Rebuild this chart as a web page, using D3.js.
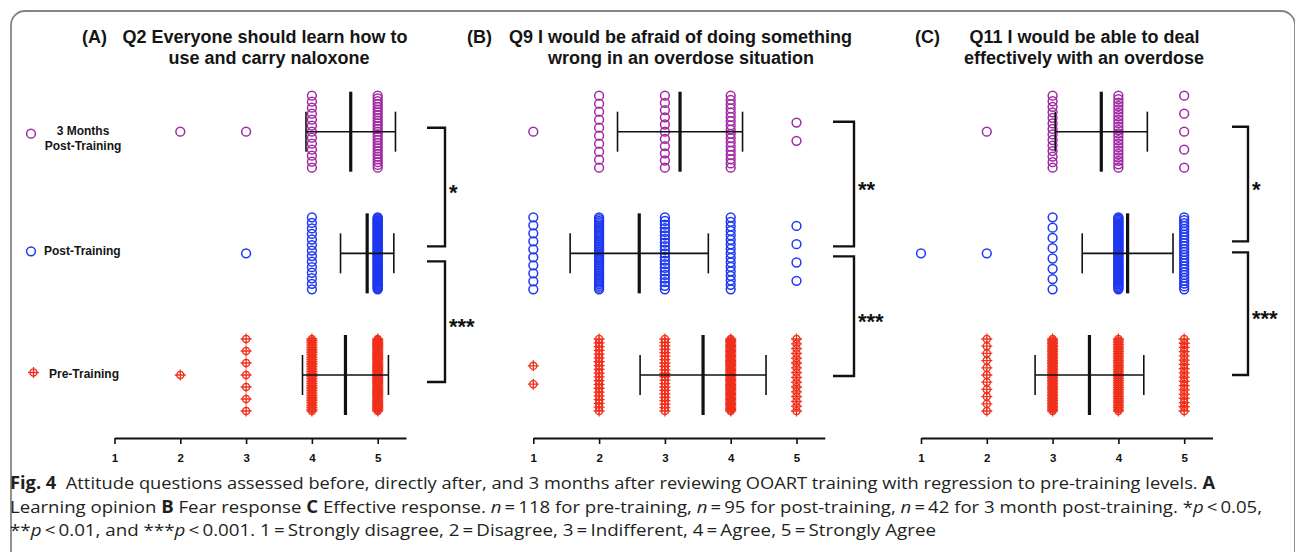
<!DOCTYPE html>
<html>
<head>
<meta charset="utf-8">
<script src="https://cdn.jsdelivr.net/npm/d3@7/dist/d3.min.js"></script>
<style>
  html, body { margin: 0; padding: 0; background: #fff; }
  svg { display: block; }
  .panel-title { font-family: "Liberation Sans", Arial, sans-serif; font-weight: bold; font-size: 18px; fill: #151515; }
  .row-label { font-family: "Liberation Sans", Arial, sans-serif; font-weight: bold; font-size: 12px; fill: #151515; }
  .sig { font-family: "Liberation Sans", Arial, sans-serif; font-weight: bold; font-size: 22px; fill: #111; }
  .axis path, .axis line { stroke: #111; }
  .axis path { stroke-width: 2; }
  .axis line { stroke-width: 1.6; }
  .axis text { font-family: "Liberation Sans", Arial, sans-serif; font-weight: bold; font-size: 11.5px; fill: #111; }
  .caption { font-family: "Open Sans", "Noto Sans", sans-serif; font-size: 17px; fill: #231f20; white-space: pre; }
</style>
</head>
<body>
<div id="chart"></div>
<script>
const groups = ["3 Months Post-Training", "Post-Training", "Pre-Training"];
const scores = [1, 2, 3, 4, 5];
const panelLetters = ["(A)", "(B)", "(C)"];
const titleLines = [
  ["Q2 Everyone should learn how to", "use and carry naloxone"],
  ["Q9 I would be afraid of doing something", "wrong in an overdose situation"],
  ["Q11 I would be able to deal", "effectively with an overdose"]
];

// answers per score 1..5, one row per group (3 months, post, pre)
const countsQ2 = [[0, 1, 1, 13, 27], [0, 0, 1, 14, 80], [0, 1, 7, 43, 67]];
const countsQ9 = [[1, 10, 11, 18, 2], [10, 43, 21, 17, 4], [2, 20, 22, 58, 16]];
const countsQ11 = [[0, 1, 14, 22, 5], [1, 1, 8, 59, 26], [0, 11, 48, 41, 18]];

// mean and SD as drawn
const meansQ2 = [4.59, 4.84, 4.51];
const sdsQ2 = [0.68, 0.405, 0.653];
const meansQ9 = [3.23, 2.61, 3.58];
const sdsQ9 = [0.95, 1.05, 0.957];
const meansQ11 = [3.74, 4.14, 3.56];
const sdsQ11 = [0.70, 0.69, 0.826];

// significance: 3 months vs post, post vs pre
const sigQ2 = ["*", "***"];
const sigQ9 = ["**", "***"];
const sigQ11 = ["*", "***"];

const captionLines = [
  [["Fig. 4", "b"], ["  Attitude questions assessed before, directly after, and 3 months after reviewing OOART training with regression to pre-training levels. ", ""], ["A", "b"]],
  [["Learning opinion ", ""], ["B", "b"], [" Fear response ", ""], ["C", "b"], [" Effective response. ", ""], ["n", "i"], ["\u2009=\u2009118 for pre-training, ", ""], ["n", "i"], ["\u2009=\u200995 for post-training, ", ""], ["n", "i"], ["\u2009=\u200942 for 3 month post-training. *", ""], ["p", "i"], ["\u2009<\u20090.05,", ""]],
  [["**", ""], ["p", "i"], ["\u2009<\u20090.01, and ***", ""], ["p", "i"], ["\u2009<\u20090.001. 1\u2009=\u2009Strongly disagree, 2\u2009=\u2009Disagree, 3\u2009=\u2009Indifferent, 4\u2009=\u2009Agree, 5\u2009=\u2009Strongly Agree", ""]]
];

const panels = [
  { counts: countsQ2, means: meansQ2, sds: sdsQ2, sig: sigQ2 },
  { counts: countsQ9, means: meansQ9, sds: sdsQ9, sig: sigQ9 },
  { counts: countsQ11, means: meansQ11, sds: sdsQ11, sig: sigQ11 }
];

// layout only
const width = 1295;
const height = 552;
const unit = 65.8;
const axisY = 438;
const colors = ["#a12aa3", "#1e38f0", "#f0301c"];
const panelLayout = [
  { left: 114.5, letterX: 82, titleX: [265, 269], bracketX: [427, 445], top: [-4, -7], low: [8, 7] },
  { left: 533.3, letterX: 467, titleX: [680.5, 681], bracketX: [833, 854], top: [-10, -7], low: [3, 1] },
  { left: 921, letterX: 915, titleX: [1084.5, 1084], bracketX: [1232, 1248], top: [-5, -12], low: [-1, 0] }
];
const captionX = 10;
const captionEnds = [1215, 1262, 936];

const svg = d3.select("#chart").append("svg")
  .attr("width", width)
  .attr("height", height);

// figure frame with rounded top corners
svg.append("path")
  .attr("d", "M11,552 V25 A14,14 0 0 1 25,11 H1281 A14,14 0 0 1 1295,25 V552")
  .attr("fill", "none")
  .attr("stroke", "#858585")
  .attr("stroke-width", 1.8);

const y = d3.scalePoint().domain(groups).range([131.7, 375]);

// crosshair marker for pre-training
function crosshair(r, arm) {
  const p = d3.path();
  p.moveTo(r, 0);
  p.arc(0, 0, r, 0, 2 * Math.PI);
  p.moveTo(-arm, 0); p.lineTo(arm, 0);
  p.moveTo(0, -arm); p.lineTo(0, arm);
  return p.toString();
}

// vertical offsets for stacked points at one score
function spread(n) {
  if (n === 0) return [];
  if (n === 1) return [0];
  const step = Math.min(18.3, 72 / (n - 1));
  return d3.range(n).map(i => (i - (n - 1) / 2) * step);
}

panels.forEach((panel, pi) => {
  const lay = panelLayout[pi];
  const x = d3.scaleLinear().domain([1, 5.43]).range([lay.left, lay.left + 4.43 * unit]);
  const g = svg.append("g");

  // title
  g.append("text").attr("class", "panel-title")
    .attr("x", lay.letterX).attr("y", 42.7)
    .text(panelLetters[pi]);
  g.selectAll("text.tline")
    .data(titleLines[pi])
    .enter()
    .append("text")
    .attr("class", "panel-title tline")
    .attr("text-anchor", "middle")
    .attr("x", (d, i) => lay.titleX[i])
    .attr("y", (d, i) => 42.7 + i * 20.8)
    .text(d => d);

  // points
  const points = [];
  groups.forEach((grp, gi) => {
    panel.counts[gi].forEach((c, si) => {
      spread(c).forEach(off => points.push({ group: grp, gi: gi, score: scores[si], off: off }));
    });
  });

  g.selectAll("circle.pt")
    .data(points.filter(d => d.gi < 2))
    .enter()
    .append("circle")
    .attr("class", "pt")
    .attr("cx", d => x(d.score))
    .attr("cy", d => y(d.group) + d.off)
    .attr("r", 4.4)
    .attr("fill", "none")
    .attr("stroke", d => colors[d.gi])
    .attr("stroke-width", 1.5);

  g.selectAll("path.pt")
    .data(points.filter(d => d.gi === 2))
    .enter()
    .append("path")
    .attr("class", "pt")
    .attr("d", crosshair(3.6, 5.5))
    .attr("transform", d => `translate(${x(d.score)},${y(d.group) + d.off})`)
    .attr("fill", "none")
    .attr("stroke", colors[2])
    .attr("stroke-width", 1.3);

  // mean and SD
  const stats = groups.map((grp, gi) => ({ group: grp, mean: panel.means[gi], sd: panel.sds[gi] }));
  const st = g.selectAll("g.stat").data(stats).enter().append("g").attr("class", "stat");
  st.append("line")
    .attr("x1", d => x(d.mean - d.sd)).attr("x2", d => x(d.mean + d.sd))
    .attr("y1", d => y(d.group)).attr("y2", d => y(d.group))
    .attr("stroke", "#111").attr("stroke-width", 1.6);
  st.selectAll("line.cap")
    .data(d => [{ v: d.mean - d.sd, group: d.group }, { v: d.mean + d.sd, group: d.group }])
    .enter()
    .append("line")
    .attr("class", "cap")
    .attr("x1", d => x(d.v)).attr("x2", d => x(d.v))
    .attr("y1", d => y(d.group) - 20).attr("y2", d => y(d.group) + 20)
    .attr("stroke", "#111").attr("stroke-width", 1.6);
  st.append("line")
    .attr("x1", d => x(d.mean)).attr("x2", d => x(d.mean))
    .attr("y1", d => y(d.group) - 40).attr("y2", d => y(d.group) + 40)
    .attr("stroke", "#111").attr("stroke-width", 3.2);

  // significance brackets
  const brackets = [
    { y0: y(groups[0]) + lay.top[0], y1: y(groups[1]) + lay.top[1], label: panel.sig[0] },
    { y0: y(groups[1]) + lay.low[0], y1: y(groups[2]) + lay.low[1], label: panel.sig[1] }
  ];
  g.selectAll("path.bracket")
    .data(brackets)
    .enter()
    .append("path")
    .attr("class", "bracket")
    .attr("d", d => `M${lay.bracketX[0]},${d.y0} H${lay.bracketX[1]} V${d.y1} H${lay.bracketX[0]}`)
    .attr("fill", "none")
    .attr("stroke", "#111")
    .attr("stroke-width", 2.4);
  g.selectAll("text.sig")
    .data(brackets)
    .enter()
    .append("text")
    .attr("class", "sig")
    .attr("x", lay.bracketX[1] + 4)
    .attr("y", d => (d.y0 + d.y1) / 2 + 0.57 * 22)
    .text(d => d.label);

  // x axis
  g.append("g")
    .attr("class", "axis")
    .attr("transform", `translate(0,${axisY})`)
    .call(d3.axisBottom(x).tickValues(scores).tickFormat(d3.format("d")).tickSize(6).tickSizeOuter(0).tickPadding(10))
    .call(a => a.select(".domain").attr("stroke-width", 2));
});

// legend / row labels
const legend = svg.append("g");
legend.append("circle").attr("cx", 31).attr("cy", y(groups[0]) + 2)
  .attr("r", 4.4).attr("fill", "none").attr("stroke", colors[0]).attr("stroke-width", 1.5);
legend.append("circle").attr("cx", 31).attr("cy", y(groups[1]) - 2)
  .attr("r", 4.4).attr("fill", "none").attr("stroke", colors[1]).attr("stroke-width", 1.5);
legend.append("path").attr("d", crosshair(3.6, 5.5))
  .attr("transform", `translate(33.5,${y(groups[2]) - 2.5})`)
  .attr("fill", "none").attr("stroke", colors[2]).attr("stroke-width", 1.3);
legend.selectAll("text.l0")
  .data(["3 Months", "Post-Training"])
  .enter()
  .append("text")
  .attr("class", "row-label l0")
  .attr("text-anchor", "middle")
  .attr("x", 83)
  .attr("y", (d, i) => y(groups[0]) + 3.5 + i * 15)
  .text(d => d);
legend.append("text").attr("class", "row-label")
  .attr("x", 44).attr("y", y(groups[1]) + 2).text(groups[1]);
legend.append("text").attr("class", "row-label")
  .attr("x", 49).attr("y", y(groups[2]) + 3).text(groups[2]);

// caption
const cap = svg.selectAll("text.caption")
  .data(captionLines)
  .enter()
  .append("text")
  .attr("class", "caption")
  .attr("x", captionX)
  .attr("y", (d, i) => 489 + i * 23.5)
  .attr("textLength", (d, i) => captionEnds[i] - captionX)
  .attr("lengthAdjust", "spacingAndGlyphs");
cap.selectAll("tspan")
  .data(d => d)
  .enter()
  .append("tspan")
  .attr("font-weight", d => d[1] === "b" ? "bold" : null)
  .attr("font-style", d => d[1] === "i" ? "italic" : null)
  .text(d => d[0]);
</script>
</body>
</html>
